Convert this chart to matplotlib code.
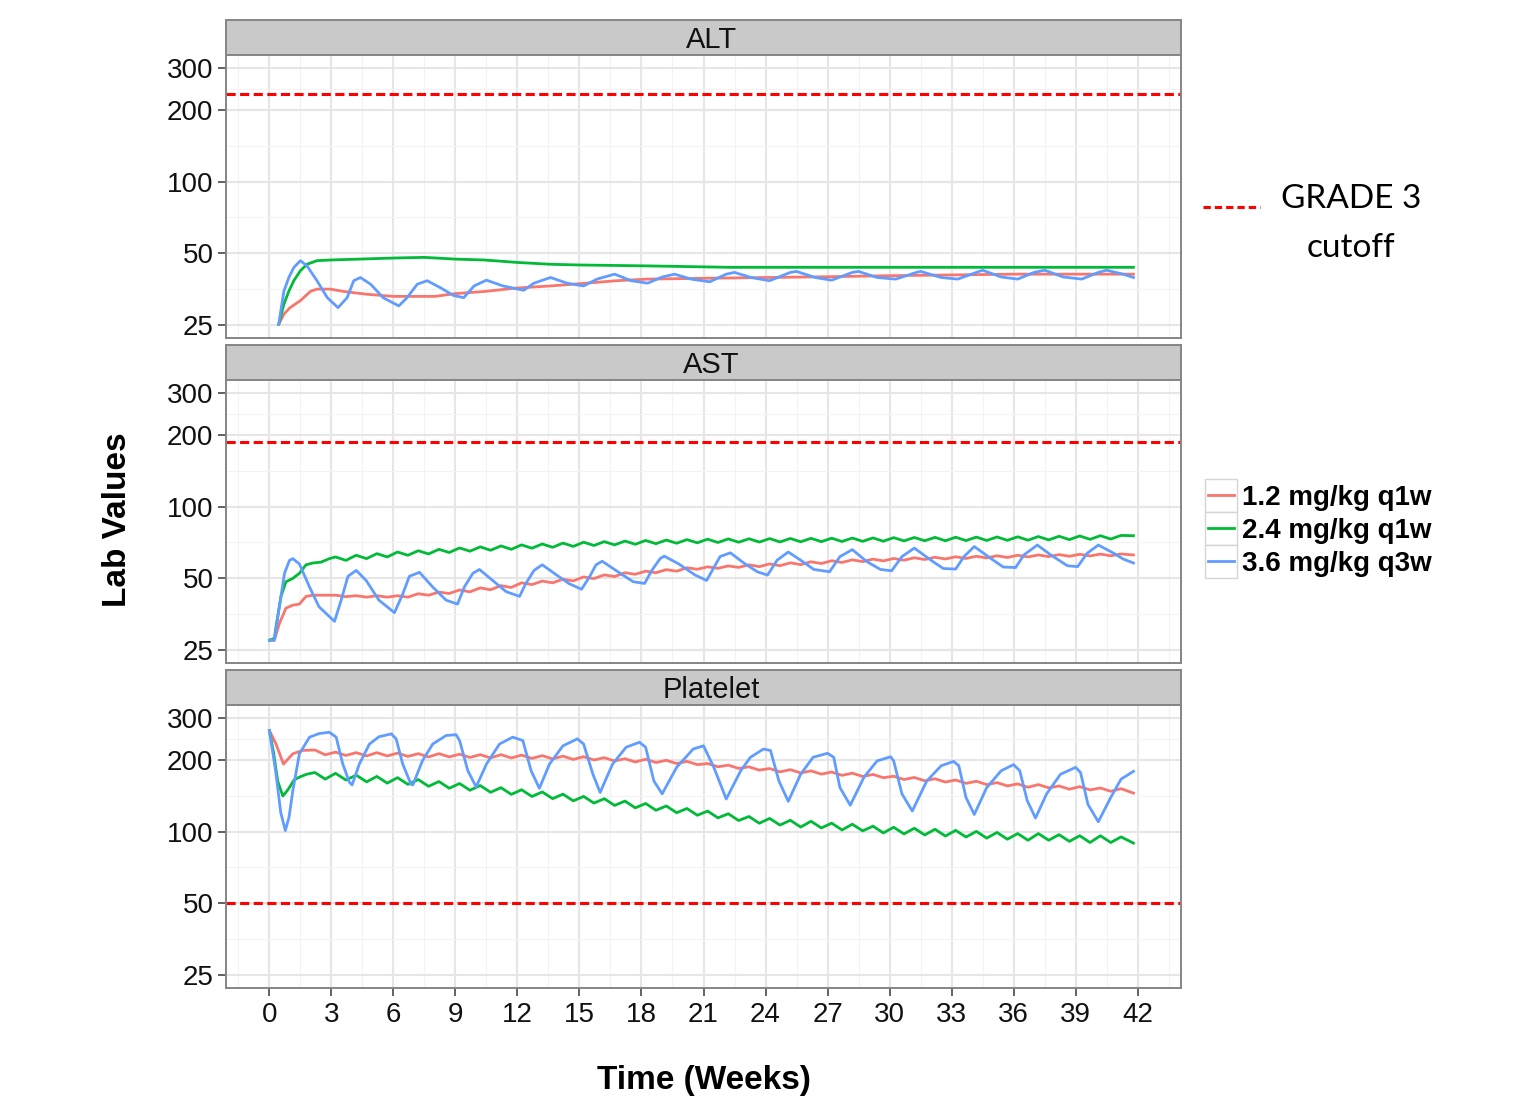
import matplotlib
matplotlib.use("Agg")
import matplotlib.pyplot as plt
from matplotlib.ticker import FixedLocator, NullFormatter
from matplotlib.lines import Line2D
from matplotlib.patches import Rectangle

# ---------------- data ----------------
series_labels = ["1.2 mg/kg q1w", "2.4 mg/kg q1w", "3.6 mg/kg q3w"]
series_colors = ["#F8766D", "#00BA38", "#619CFF"]
panel_names = ["ALT", "AST", "Platelet"]
grade3_cutoffs = [232, 187, 50]
x_ticks = [0, 3, 6, 9, 12, 15, 18, 21, 24, 27, 30, 33, 36, 39, 42]
y_ticks = [25, 50, 100, 200, 300]

# weekly sampling times (peak / trough of each weekly cycle) shared by q1w series
weekly_t = [3.2, 3.7, 4.2, 4.7, 5.2, 5.7, 6.2, 6.7, 7.2, 7.7, 8.2, 8.7, 9.2, 9.7,
            10.2, 10.7, 11.2, 11.7, 12.2, 12.7, 13.2, 13.7, 14.2, 14.7, 15.2, 15.7,
            16.2, 16.7, 17.2, 17.7, 18.2, 18.7, 19.2, 19.7, 20.2, 20.7, 21.2, 21.7,
            22.2, 22.7, 23.2, 23.7, 24.2, 24.7, 25.2, 25.7, 26.2, 26.7, 27.2, 27.7,
            28.2, 28.7, 29.2, 29.7, 30.2, 30.7, 31.2, 31.7, 32.2, 32.7, 33.2, 33.7,
            34.2, 34.7, 35.2, 35.7, 36.2, 36.7, 37.2, 37.7, 38.2, 38.7, 39.2, 39.7,
            40.2, 40.7, 41.2, 41.8]

# ALT
alt_red_t = [0.45, 0.7, 1.0, 1.5, 2.0, 2.3, 2.95, 3.6, 4.7, 6.0, 8.0, 9.0, 10.4, 12.0,
             13.6, 15.0, 16.8, 18.3, 21.0, 24.0, 27.0, 30.0, 33.0, 36.0, 39.0, 41.8]
alt_red_v = [25.2, 27.8, 29.6, 31.7, 34.7, 35.4, 35.4, 34.6, 33.7, 33.0, 33.0, 33.9, 34.6, 35.8,
             36.5, 37.3, 38.4, 39.0, 39.3, 39.6, 39.9, 40.3, 40.6, 40.9, 40.9, 40.9]
alt_green_t = [0.45, 0.7, 0.94, 1.18, 1.5, 1.82, 2.3, 2.95, 4.0, 5.0, 6.0, 7.5, 9.0, 10.4,
               12.0, 13.6, 15.0, 18.3, 22.3, 41.8]
alt_green_v = [25.2, 30.6, 34.7, 38.4, 42.3, 45.0, 46.6, 46.9, 47.2, 47.5, 47.8, 48.1, 47.3, 46.9,
               45.8, 45.0, 44.7, 44.3, 43.7, 43.7]
alt_blue_t = [0.45, 0.7, 0.94, 1.18, 1.5, 1.82, 2.3, 2.8, 3.32, 3.76, 4.08, 4.4, 4.9, 5.5,
              6.26, 6.66, 7.15, 7.63, 8.27, 8.9, 9.4, 9.9, 10.5, 11.3, 12.3, 12.8, 13.6,
              14.4, 15.2, 15.85, 16.7, 17.5, 18.3, 19.0, 19.6, 20.4, 21.3, 22.1, 22.5,
              23.3, 24.2, 25.2, 25.5, 26.4, 27.2, 28.2, 28.5, 29.4, 30.3, 31.3, 31.5,
              32.5, 33.3, 34.2, 34.5, 35.4, 36.2, 37.0, 37.5, 38.4, 39.3, 40.1, 40.5,
              41.3, 41.8]
alt_blue_v = [25.2, 34.7, 39.6, 43.6, 46.6, 44.3, 38.4, 32.6, 29.6, 32.6, 38.4, 39.6, 37.1, 32.6,
              30.1, 32.6, 37.1, 38.4, 35.9, 33.3, 32.6, 36.5, 38.6, 36.5, 35.0, 37.5, 39.6,
              37.5, 36.5, 39.0, 40.9, 38.4, 37.5, 39.8, 40.9, 39.0, 38.0, 40.9, 41.6,
              39.6, 38.4, 41.6, 42.0, 39.6, 38.6, 41.6, 42.0, 39.6, 39.0, 41.6, 42.0,
              39.6, 39.0, 41.6, 42.5, 39.8, 39.0, 41.6, 42.5, 39.8, 39.0, 41.6, 42.5,
              40.9, 39.6]

# AST
ast_red_t0 = [0, 0.24, 0.48, 0.8, 1.13, 1.45, 1.77, 2.1, 2.7]
ast_red_v0 = [27.5, 27.5, 32.3, 37.5, 38.6, 39.0, 42.0, 42.5, 42.5]
ast_red_vw = [42.5, 41.9, 42.3, 41.7, 42.3, 41.7, 42.3, 41.7, 43.1, 42.5, 43.8, 43.2, 44.7, 43.9,
              45.6, 44.8, 46.6, 45.8, 47.9, 47.1, 48.7, 47.9, 49.6, 48.8, 50.7, 49.9, 51.7, 50.9,
              52.8, 52.0, 53.6, 52.8, 54.4, 53.6, 55.4, 54.6, 55.9, 55.1, 56.4, 55.6, 57.0, 56.0,
              57.5, 56.5, 58.1, 57.1, 58.7, 57.7, 59.3, 58.3, 59.8, 58.8, 60.2, 59.2, 60.6, 59.6,
              61.0, 60.0, 61.3, 60.3, 61.6, 60.6, 61.9, 60.9, 62.2, 61.2, 62.5, 61.5, 62.7, 61.7,
              62.9, 61.9, 63.1, 62.1, 63.2, 62.2, 63.3, 62.7]
ast_green_t0 = [0, 0.24, 0.32, 0.56, 0.8, 1.13, 1.45, 1.77, 2.1, 2.5, 2.9]
ast_green_v0 = [27.5, 28.0, 31.3, 42.0, 48.4, 50.0, 52.5, 57.0, 58.0, 58.5, 60.5]
ast_green_vw = [61.5, 59.5, 62.5, 60.5, 63.5, 61.5, 64.5, 62.5, 65.3, 63.3, 66.2, 64.2, 67.1, 65.0,
                67.8, 65.6, 68.4, 66.2, 69.1, 66.9, 69.7, 67.5, 70.3, 68.1, 70.9, 68.7, 71.3, 69.1,
                71.7, 69.5, 72.1, 69.9, 72.4, 70.2, 72.7, 70.5, 73.0, 70.7, 73.2, 70.9, 73.3, 71.0,
                73.4, 71.1, 73.5, 71.2, 73.6, 71.3, 73.7, 71.4, 73.8, 71.5, 73.9, 71.6, 74.1, 71.8,
                74.2, 71.9, 74.3, 71.9, 74.4, 72.0, 74.5, 72.1, 74.6, 72.2, 74.7, 72.3, 74.9, 72.5,
                75.1, 72.7, 75.3, 72.9, 75.5, 73.1, 75.7, 75.5]
ast_blue_t = [0, 0.24, 0.48, 0.73, 0.97, 1.13, 1.45, 1.94, 2.4, 3.15, 3.47, 3.8, 4.2, 4.68,
              5.3, 6.05, 6.45, 6.77, 7.26, 7.9, 8.55, 9.1, 9.43, 9.84, 10.16, 10.8, 11.45,
              12.1, 12.4, 12.8, 13.2, 13.9, 14.5, 15.1, 15.5, 15.8, 16.1, 16.9, 17.6, 18.15,
              18.5, 18.9, 19.1, 19.8, 20.6, 21.15, 21.8, 22.3, 22.95, 23.6, 24.1, 24.56,
              25.1, 25.7, 26.34, 27.1, 27.6, 28.2, 28.9, 29.56, 30.1, 30.6, 31.2, 32.0,
              32.6, 33.2, 33.6, 34.1, 34.9, 35.5, 36.1, 36.5, 37.15, 37.8, 38.6, 39.1,
              39.56, 40.1, 40.85, 41.3, 41.8]
ast_blue_v = [27.5, 27.5, 38.0, 52.5, 59.5, 60.5, 57.5, 46.0, 38.0, 33.0, 40.5, 51.0, 54.0, 49.0,
              40.5, 35.9, 43.0, 51.0, 53.0, 46.0, 40.5, 39.0, 46.0, 52.5, 54.5, 49.0, 44.0,
              42.0, 47.5, 54.0, 57.0, 51.6, 47.5, 45.0, 51.0, 57.0, 59.0, 53.0, 48.4, 47.6,
              54.0, 60.5, 62.0, 57.5, 51.6, 49.0, 61.7, 64.0, 58.0, 53.3, 51.6, 59.6,
              64.5, 59.6, 54.5, 53.3, 61.7, 66.0, 58.8, 54.5, 53.8, 61.7, 67.0, 59.6,
              55.0, 54.7, 61.7, 68.0, 60.6, 55.8, 55.5, 62.7, 69.0, 62.7, 56.5, 56.0,
              63.7, 69.0, 63.7, 60.3, 58.0]

# Platelet
plt_red_t0 = [0, 0.32, 0.68, 1.13, 1.6, 2.2, 2.7]
plt_red_v0 = [265, 233, 192, 212, 219, 220, 210]
plt_red_vw = [215.4, 208.7, 214.4, 207.7, 214.4, 207.7, 213.4, 206.7, 212.3, 205.7, 212.3, 205.7,
              211.3, 204.7, 210.3, 203.7, 210.3, 203.7, 209.3, 202.8, 208.3, 201.8, 207.3, 200.8,
              206.2, 199.8, 204.2, 197.8, 202.2, 195.9, 201.2, 194.9, 199.1, 192.9, 197.1, 190.9,
              193.0, 187.0, 190.0, 184.1, 186.9, 181.1, 183.9, 178.1, 181.9, 176.2, 179.8, 174.2,
              177.8, 172.2, 175.8, 170.3, 173.7, 168.3, 170.7, 165.4, 168.7, 163.4, 166.6, 161.4,
              164.6, 159.4, 162.6, 157.5, 160.5, 155.5, 158.5, 153.5, 157.5, 152.6, 155.4, 150.6,
              154.4, 149.6, 152.4, 147.6, 151.4, 145.0]
plt_green_t0 = [0, 0.2, 0.4, 0.65, 0.9, 1.2, 1.5, 1.8, 2.2, 2.7]
plt_green_v0 = [265, 215, 163, 141, 150, 165, 170, 174, 177, 166]
plt_green_vw = [175.6, 164.6, 172.5, 161.7, 170.4, 159.7, 168.4, 157.8, 165.3, 154.9, 162.2, 152.0,
                159.1, 149.1, 156.0, 146.2, 152.9, 143.3, 149.8, 140.4, 146.7, 137.5, 143.6, 134.6,
                140.5, 131.7, 137.4, 128.8, 134.3, 125.8, 131.2, 122.9, 128.1, 120.0, 125.0, 117.1,
                121.9, 114.2, 118.8, 111.3, 115.7, 108.4, 113.6, 106.5, 111.6, 104.5, 110.5, 103.6,
                108.5, 101.6, 107.4, 100.7, 105.4, 98.7, 104.3, 97.8, 103.3, 96.8, 102.3, 95.8,
                101.2, 94.9, 100.2, 93.9, 99.2, 92.9, 98.1, 92.0, 98.1, 92.0, 97.1, 91.0,
                96.1, 90.0, 96.1, 90.0, 95.0, 89.5]
plt_blue_t = [0, 0.3, 0.55, 0.77, 0.95, 1.13, 1.45, 1.94, 2.42, 2.9, 3.23, 3.55, 3.87, 4.0,
              4.35, 4.84, 5.3, 5.9, 6.13, 6.45, 6.85, 6.94, 7.4, 7.9, 8.55, 9.03, 9.2, 9.6,
              10.0, 10.5, 11.13, 11.77, 12.26, 12.66, 13.06, 13.55, 14.2, 14.9, 15.2, 15.65,
              16.0, 16.6, 17.26, 17.9, 18.2, 18.6, 19.0, 19.7, 20.5, 21.0, 21.5, 22.1, 22.8,
              23.27, 23.9, 24.24, 24.65, 25.1, 25.7, 26.3, 27.0, 27.3, 27.6, 28.1, 28.76,
              29.4, 30.05, 30.2, 30.6, 31.1, 31.8, 32.5, 33.1, 33.35, 33.7, 34.1, 34.7,
              35.4, 36.0, 36.3, 36.66, 37.06, 37.6, 38.27, 39.0, 39.24, 39.6, 40.1, 40.7,
              41.2, 41.8]
plt_blue_v = [265, 180, 120, 101, 115, 148, 212, 249, 258, 261, 249, 192, 161, 157,
              192, 233, 250, 257, 245, 192, 158, 157, 198, 233, 253, 255, 241, 180,
              154, 192, 233, 249, 241, 180, 152, 192, 229, 245, 233, 174,
              146, 192, 226, 237, 226, 163, 144, 186, 222, 229, 186, 137, 180,
              205, 222, 219, 163, 134, 174, 205, 213, 205, 153, 129, 169,
              198, 206, 198, 144, 122, 163, 189, 197, 189, 139, 118, 153,
              180, 191, 180, 135, 114, 144, 174, 186, 177, 130, 110, 139,
              166, 179]

panel_series = {
    "ALT": [(alt_red_t, alt_red_v), (alt_green_t, alt_green_v), (alt_blue_t, alt_blue_v)],
    "AST": [(ast_red_t0 + weekly_t, ast_red_v0 + ast_red_vw),
            (ast_green_t0 + weekly_t, ast_green_v0 + ast_green_vw),
            (ast_blue_t, ast_blue_v)],
    "Platelet": [(plt_red_t0 + weekly_t, plt_red_v0 + plt_red_vw),
                 (plt_green_t0 + weekly_t, plt_green_v0 + plt_green_vw),
                 (plt_blue_t, plt_blue_v)],
}

# ---------------- layout ----------------
W, H = 1525, 1099
plt.rcParams["font.family"] = ["Liberation Sans", "DejaVu Sans"]
fig = plt.figure(figsize=(W / 100, H / 100), dpi=100)
fig.patch.set_facecolor("white")


def frect(x0, y0, x1, y1):
    return [x0 / W, 1 - y1 / H, (x1 - x0) / W, (y1 - y0) / H]


BORDER = "#858585"
STRIP = "#C9C9C9"
GRID_MAJ = "#E6E6E6"
GRID_MIN = "#F3F3F3"
DASH = (0, (3.0, 1.45))   # in units of line width

layout = [(20, 55, 338), (345, 380, 663), (670, 705, 988)]
PX0, PX1 = 226, 1181

ylo = 25 / 12 ** 0.05
yhi = 300 * 12 ** 0.05

for i, (name, (st, sb, pb)) in enumerate(zip(panel_names, layout)):
    sax = fig.add_axes(frect(PX0, st, PX1, sb))
    sax.set_facecolor(STRIP)
    sax.set_xticks([])
    sax.set_yticks([])
    for s in sax.spines.values():
        s.set_color(BORDER)
        s.set_linewidth(1.4)
    sax.text(0.5 + 7.5 / (PX1 - PX0), 0.44, name, ha="center", va="center",
             fontsize=21, color="#111111", transform=sax.transAxes)

    ax = fig.add_axes(frect(PX0, sb, PX1, pb))
    ax.set_facecolor("white")
    ax.set_yscale("log")
    ax.set_xlim(-2.1, 44.1)
    ax.set_ylim(ylo, yhi)
    ax.yaxis.set_major_locator(FixedLocator(y_ticks))
    ax.set_yticklabels([str(v) for v in y_ticks])
    ax.yaxis.set_minor_locator(FixedLocator([35.36, 70.71, 141.42, 244.95]))
    ax.yaxis.set_minor_formatter(NullFormatter())
    ax.xaxis.set_major_locator(FixedLocator(x_ticks))
    ax.xaxis.set_minor_locator(FixedLocator([t - 1.5 for t in x_ticks] + [43.5]))
    ax.grid(which="major", color=GRID_MAJ, linewidth=1.5)
    ax.grid(which="minor", color=GRID_MIN, linewidth=0.8)
    ax.set_axisbelow(True)
    for s in ax.spines.values():
        s.set_color(BORDER)
        s.set_linewidth(1.4)
    ax.tick_params(axis="y", which="major", length=6, width=1.3, color="#555555",
                   labelsize=20, labelcolor="#111111", pad=3)
    ax.tick_params(which="minor", length=0)
    if i < 2:
        ax.tick_params(axis="x", which="major", length=0, labelbottom=False)
    else:
        ax.set_xticklabels([str(v) for v in x_ticks])
        ax.tick_params(axis="x", which="major", length=6, width=1.3, color="#555555",
                       labelsize=20, labelcolor="#111111", pad=4)

    ax.axhline(grade3_cutoffs[i], color="#FF0000", linewidth=2.2, linestyle=DASH, zorder=2)
    for (t, v), c in zip(panel_series[name], series_colors):
        ax.plot(t, v, color=c, linewidth=2.0, zorder=3, solid_joinstyle="round")

# axis titles
fig.text(117 / W, 1 - 520 / H, "Lab Values", rotation=90, fontsize=24, fontweight="bold",
         ha="center", va="center")
fig.text(704 / W, 1 - 1080 / H, "Time (Weeks)", fontsize=24, fontweight="bold",
         ha="center", va="center")

# grade 3 legend
fig.add_artist(Line2D([1203 / W, 1260 / W], [1 - 207 / H, 1 - 207 / H], transform=fig.transFigure,
                      color="#FF0000", linewidth=2.2, linestyle=(0, (2.4, 1.3))))
fig.text(1351 / W, 1 - 199 / H, "GRADE 3", fontsize=24, family=["Lato", "DejaVu Sans"],
         ha="center", va="center")
fig.text(1351 / W, 1 - 248 / H, "cutoff", fontsize=24, family=["Lato", "DejaVu Sans"],
         ha="center", va="center")

# dose legend
rows_y = [495, 528, 561]
for yc, lab, col in zip(rows_y, series_labels, series_colors):
    fig.add_artist(Rectangle((1205 / W, 1 - (yc + 16.5) / H), 32 / W, 33 / H,
                             transform=fig.transFigure, facecolor="white",
                             edgecolor="#D5D5D5", linewidth=1.0))
    fig.add_artist(Line2D([1208 / W, 1234 / W], [1 - yc / H, 1 - yc / H],
                          transform=fig.transFigure, color=col, linewidth=2.0))
    fig.text(1242 / W, 1 - yc / H, lab, fontsize=20, fontweight="bold",
             ha="left", va="center_baseline")

fig.savefig("out.png", dpi=100)
